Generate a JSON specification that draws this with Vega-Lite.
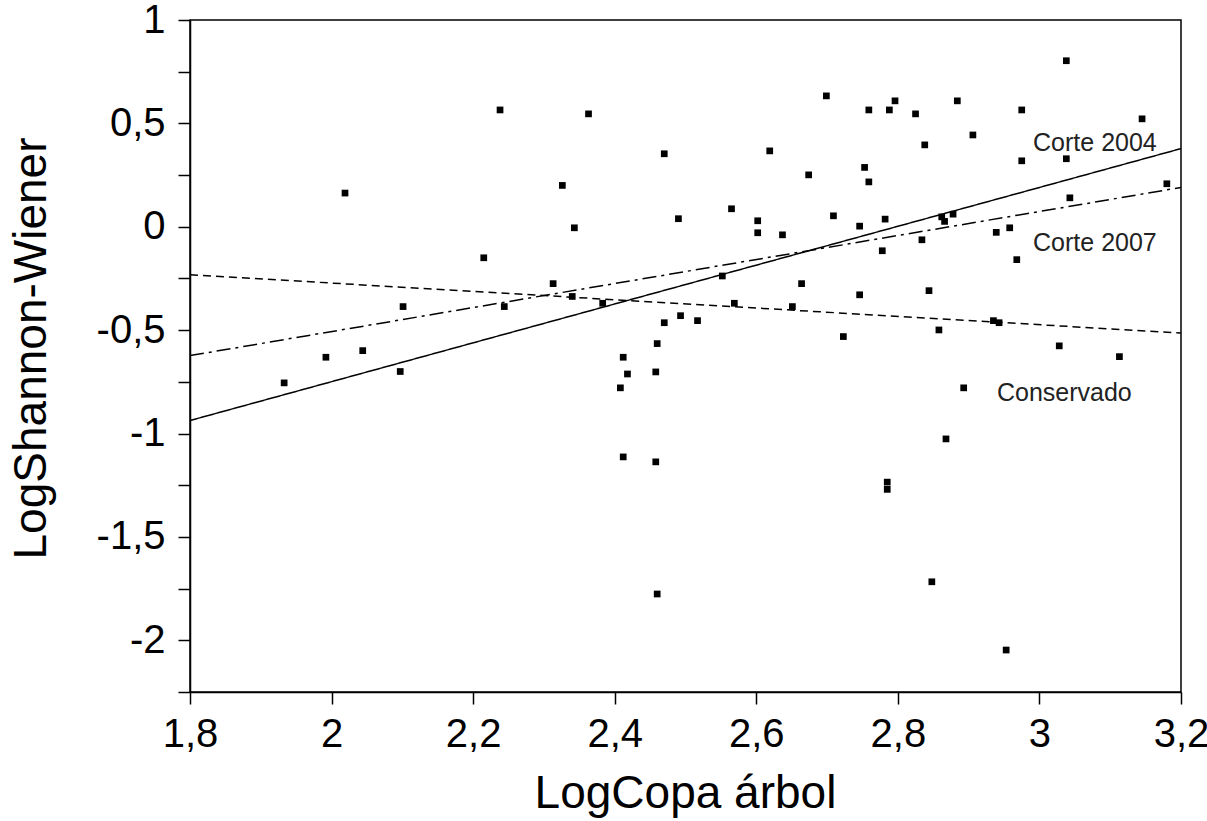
{
  "$schema": "https://vega.github.io/schema/vega-lite/v6.json",
  "width": 991,
  "height": 672,
  "autosize": {"type": "none"},
  "padding": {"left": 190, "top": 20, "right": 26, "bottom": 129},
  "background": "white",
  "config": {
    "view": {"stroke": "#000", "strokeWidth": 1.5},
    "font": "Liberation Sans"
  },
  "datasets": {
    "points": [
      {"x": 2.019, "y": 0.163}, {"x": 2.238, "y": 0.565}, {"x": 2.215, "y": -0.150}, {"x": 2.101, "y": -0.386},
      {"x": 2.244, "y": -0.386}, {"x": 2.044, "y": -0.599}, {"x": 1.992, "y": -0.631}, {"x": 1.933, "y": -0.755},
      {"x": 2.097, "y": -0.700}, {"x": 2.363, "y": 0.546}, {"x": 2.470, "y": 0.353}, {"x": 2.699, "y": 0.633},
      {"x": 2.619, "y": 0.367}, {"x": 2.674, "y": 0.251}, {"x": 2.326, "y": 0.200}, {"x": 2.343, "y": -0.005},
      {"x": 2.490, "y": 0.039}, {"x": 2.565, "y": 0.087}, {"x": 2.602, "y": 0.029}, {"x": 2.602, "y": -0.029},
      {"x": 2.637, "y": -0.039}, {"x": 2.709, "y": 0.053}, {"x": 2.313, "y": -0.275}, {"x": 2.340, "y": -0.337},
      {"x": 2.383, "y": -0.370}, {"x": 2.552, "y": -0.238}, {"x": 2.569, "y": -0.370}, {"x": 2.664, "y": -0.275},
      {"x": 2.651, "y": -0.386}, {"x": 2.493, "y": -0.430}, {"x": 2.470, "y": -0.464}, {"x": 2.517, "y": -0.454},
      {"x": 2.460, "y": -0.565}, {"x": 2.412, "y": -0.631}, {"x": 2.418, "y": -0.712}, {"x": 2.458, "y": -0.702},
      {"x": 2.408, "y": -0.779}, {"x": 2.412, "y": -1.113}, {"x": 2.458, "y": -1.137}, {"x": 2.460, "y": -1.776},
      {"x": 3.038, "y": 0.803}, {"x": 2.759, "y": 0.565}, {"x": 2.788, "y": 0.565}, {"x": 2.796, "y": 0.609},
      {"x": 2.825, "y": 0.546}, {"x": 2.884, "y": 0.609}, {"x": 2.975, "y": 0.565}, {"x": 3.145, "y": 0.522},
      {"x": 2.906, "y": 0.444}, {"x": 2.838, "y": 0.396}, {"x": 2.975, "y": 0.319}, {"x": 3.038, "y": 0.329},
      {"x": 2.753, "y": 0.287}, {"x": 2.759, "y": 0.217}, {"x": 3.180, "y": 0.208}, {"x": 3.043, "y": 0.140},
      {"x": 2.746, "y": 0.003}, {"x": 2.782, "y": 0.037}, {"x": 2.778, "y": -0.116}, {"x": 2.834, "y": -0.063},
      {"x": 2.862, "y": 0.048}, {"x": 2.866, "y": 0.026}, {"x": 2.878, "y": 0.061}, {"x": 2.939, "y": -0.027},
      {"x": 2.958, "y": -0.005}, {"x": 2.968, "y": -0.159}, {"x": 2.746, "y": -0.329}, {"x": 2.844, "y": -0.309},
      {"x": 2.723, "y": -0.531}, {"x": 2.858, "y": -0.499}, {"x": 2.935, "y": -0.454}, {"x": 2.943, "y": -0.464},
      {"x": 3.028, "y": -0.576}, {"x": 3.113, "y": -0.628}, {"x": 2.893, "y": -0.779}, {"x": 2.868, "y": -1.026},
      {"x": 2.785, "y": -1.235}, {"x": 2.785, "y": -1.270}, {"x": 2.848, "y": -1.717}, {"x": 2.953, "y": -2.047}
    ],
    "lines": [
      {"serie": "Corte 2004", "x": 1.8, "y": -0.937}, {"serie": "Corte 2004", "x": 3.2, "y": 0.378},
      {"serie": "Corte 2007", "x": 1.8, "y": -0.623}, {"serie": "Corte 2007", "x": 3.2, "y": 0.190},
      {"serie": "Conservado", "x": 1.8, "y": -0.232}, {"serie": "Conservado", "x": 3.2, "y": -0.514}
    ],
    "labels": [
      {"label": "Corte 2004", "x": 2.991, "y": 0.367},
      {"label": "Corte 2007", "x": 2.991, "y": -0.116},
      {"label": "Conservado", "x": 2.940, "y": -0.841}
    ]
  },
  "encoding": {
    "x": {
      "field": "x", "type": "quantitative",
      "scale": {"domain": [1.8, 3.2], "nice": false, "zero": false},
      "axis": {
        "title": "LogCopa árbol",
        "values": [1.8, 2, 2.2, 2.4, 2.6, 2.8, 3, 3.2],
        "labelExpr": "replace('' + datum.value, '.', ',')",
        "labelFont": "Liberation Sans", "labelFontSize": 40, "labelColor": "black",
        "labelFlush": false, "labelOverlap": false, "labelPadding": 10,
        "tickSize": 12, "tickColor": "black", "tickWidth": 1.5,
        "domainColor": "black", "domainWidth": 1.5, "grid": false,
        "titleFont": "Liberation Sans", "titleFontSize": 46, "titleFontWeight": "normal", "titleColor": "black",
        "titleX": 495, "titleY": 115, "titleAlign": "center", "titleBaseline": "alphabetic"
      }
    },
    "y": {
      "field": "y", "type": "quantitative",
      "scale": {"domain": [-2.25, 1], "nice": false, "zero": false},
      "axis": {
        "title": "LogShannon-Wiener",
        "values": [1, 0.75, 0.5, 0.25, 0, -0.25, -0.5, -0.75, -1, -1.25, -1.5, -1.75, -2, -2.25],
        "labelExpr": "abs(datum.value * 2 - round(datum.value * 2)) < 0.001 ? replace('' + datum.value, '.', ',') : ''",
        "labelFont": "Liberation Sans", "labelFontSize": 40, "labelColor": "black",
        "labelFlush": false, "labelOverlap": false, "labelPadding": 13,
        "tickSize": 12, "tickColor": "black", "tickWidth": 1.5,
        "domainColor": "black", "domainWidth": 1.5, "grid": false,
        "titleFont": "Liberation Sans", "titleFontSize": 46, "titleFontWeight": "normal", "titleColor": "black",
        "titleX": -145, "titleY": 328, "titleAngle": -90, "titleAlign": "center", "titleBaseline": "alphabetic"
      }
    }
  },
  "layer": [
    {
      "data": {"name": "lines"},
      "mark": {"type": "line", "color": "black", "strokeWidth": 1.5, "clip": true},
      "encoding": {
        "detail": {"field": "serie", "type": "nominal"},
        "strokeDash": {
          "field": "serie", "type": "nominal",
          "scale": {"domain": ["Corte 2004", "Corte 2007", "Conservado"], "range": [[1, 0], [14, 5, 3, 5], [8, 5]]},
          "legend": null
        }
      }
    },
    {
      "data": {"name": "points"},
      "mark": {"type": "point", "shape": "square", "filled": true, "size": 45, "color": "black", "opacity": 1}
    },
    {
      "data": {"name": "labels"},
      "mark": {"type": "text", "align": "left", "baseline": "alphabetic", "fontSize": 25, "font": "Liberation Sans", "color": "#222"},
      "encoding": {"text": {"field": "label", "type": "nominal"}}
    }
  ]
}
